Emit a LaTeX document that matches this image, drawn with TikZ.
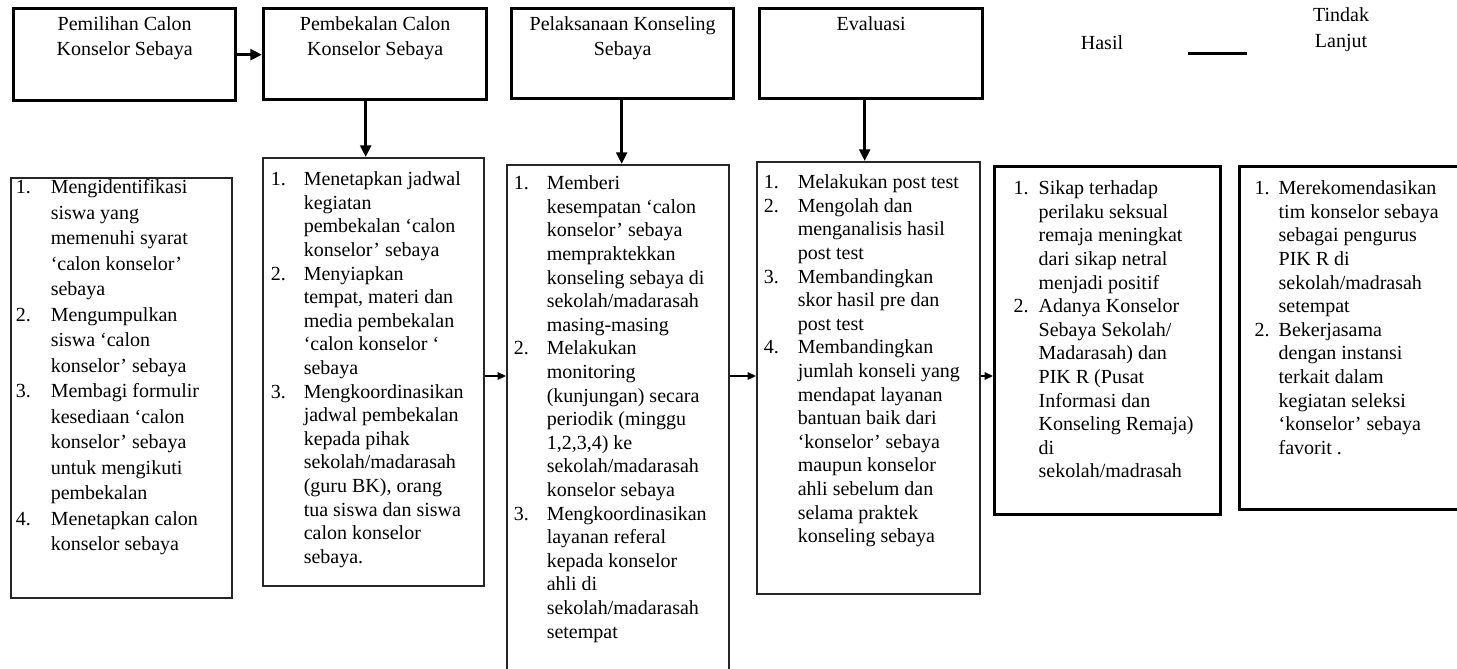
\documentclass[tikz,border=0pt]{standalone}
\usepackage{fontspec}
\setmainfont{Liberation Serif}
\usetikzlibrary{arrows.meta,calc}
\newlength\pxu
\setlength\pxu{0.6pt}
\newlength\indentnomor
\newlength\indentteks
% kotak judul: tinggi, lebar, isi
\newcommand{\judulkotak}[3]{\parbox[t][#1\pxu][t]{#2\pxu}{\fontsize{12}{15}\selectfont\centering
  \vspace*{\dimexpr22\pxu-10pt\relax}\rule{0pt}{10pt}#3}}
% kotak daftar: tinggi, lebar, baris pertama, jarak baris, nomor, teks, isi
\newcommand{\isikotak}[7]{\parbox[t][#1\pxu][t]{#2\pxu}{\fontsize{12}{#4\pxu}\selectfont
  \lineskiplimit=-\maxdimen
  \setlength\indentnomor{#5\pxu}\setlength\indentteks{#6\pxu}%
  \vspace*{\dimexpr#3\pxu-10pt\relax}#7}}
\newcommand{\butir}[2]{\par\hangindent=\indentteks\hangafter=1
  \hspace*{\indentnomor}\makebox[\dimexpr\indentteks-\indentnomor\relax][l]{\rule{0pt}{10pt}#1}#2\par}
\tikzset{
>={Triangle[length=7pt,width=6.5pt]},
kotak/.style={draw,line width=2pt,inner sep=0pt,anchor=north west},
daftar/.style={draw=black!85,line width=0.9pt,inner sep=0pt,anchor=north west},
teks/.style={inner sep=0pt},
panah/.style={->,line width=2pt},
panahtipis/.style={-{Triangle[length=5pt,width=4.5pt]},line width=0.9pt},
garis/.style={line width=1.8pt}}

\begin{document}
\begin{tikzpicture}[x=0.6pt,y=-0.6pt,font=\fontsize{12}{14}\selectfont]
\useasboundingbox (0,0) rectangle (1457,668);

% baris atas
\node[kotak] (pilih) at (12,7) {\judulkotak{92}{222}{Pemilihan Calon\\Konselor Sebaya}};
\node[kotak] (bekal) at (262,7) {\judulkotak{91}{223}{Pembekalan Calon\\Konselor Sebaya}};
\node[kotak] (laksana) at (510,7) {\judulkotak{90}{222}{Pelaksanaan Konseling\\Sebaya}};
\node[kotak] (evaluasi) at (758,7) {\judulkotak{90}{223}{Evaluasi}};
\node[teks,anchor=base] (hasil) at (1102,49) {Hasil};
\node[teks,anchor=north,align=center] (lanjut) at (1341,7) {Tindak\\[2pt]Lanjut};

% kotak isi
\node[daftar] (isi1) at (10,177) {\isikotak{420}{221}{16}{25.5}{5}{40}{%
\butir{1.}{Mengidentifikasi\\siswa yang\\memenuhi syarat\\‘calon konselor’\\sebaya}
\butir{2.}{Mengumpulkan\\siswa ‘calon\\konselor’ sebaya}
\butir{3.}{Membagi formulir\\kesediaan ‘calon\\konselor’ sebaya\\untuk mengikuti\\pembekalan}
\butir{4.}{Menetapkan calon\\konselor sebaya}}};

\node[daftar] (isi2) at (262,157) {\isikotak{428}{221}{28}{23.6}{8}{41}{%
\butir{1.}{Menetapkan jadwal\\kegiatan\\pembekalan ‘calon\\konselor’ sebaya}
\butir{2.}{Menyiapkan\\tempat, materi dan\\media pembekalan\\‘calon konselor ‘\\sebaya}
\butir{3.}{Mengkoordinasikan\\jadwal pembekalan\\kepada pihak\\sekolah/madarasah\\(guru BK), orang\\tua siswa dan siswa\\calon konselor\\sebaya.}}};

\node[daftar] (isi3) at (506,164) {\isikotak{520}{222}{25}{23.6}{7}{40}{%
\butir{1.}{Memberi\\kesempatan ‘calon\\konselor’ sebaya\\mempraktekkan\\konseling sebaya di\\sekolah/madarasah\\masing-masing}
\butir{2.}{Melakukan\\monitoring\\(kunjungan) secara\\periodik (minggu\\1,2,3,4) ke\\sekolah/madarasah\\konselor sebaya}
\butir{3.}{Mengkoordinasikan\\layanan referal\\kepada konselor\\ahli di\\sekolah/madarasah\\setempat}}};

\node[daftar] (isi4) at (756,161) {\isikotak{432}{223}{27}{23.6}{7}{41}{%
\butir{1.}{Melakukan post test}
\butir{2.}{Mengolah dan\\menganalisis hasil\\post test}
\butir{3.}{Membandingkan\\skor hasil pre dan\\post test}
\butir{4.}{Membandingkan\\jumlah konseli yang\\mendapat layanan\\bantuan baik dari\\‘konselor’ sebaya\\maupun konselor\\ahli sebelum dan\\selama praktek\\konseling sebaya}}};

\node[kotak] (isi5) at (993,165) {\isikotak{348}{226}{28}{23.6}{19}{44}{%
\butir{1.}{Sikap terhadap\\perilaku seksual\\remaja meningkat\\dari sikap netral\\menjadi positif}
\butir{2.}{Adanya Konselor\\Sebaya Sekolah/\\Madarasah) dan\\PIK R (Pusat\\Informasi dan\\Konseling Remaja)\\di\\sekolah/madrasah}}};

\node[kotak] (isi6) at (1238,165) {\isikotak{343}{224}{28}{23.6}{15}{39}{%
\butir{1.}{Merekomendasikan\\tim konselor sebaya\\sebagai pengurus\\PIK R di\\sekolah/madrasah\\setempat}
\butir{2.}{Bekerjasama\\dengan instansi\\terkait dalam\\kegiatan seleksi\\‘konselor’ sebaya\\favorit .}}};

% panah
\draw[panah] (pilih.east) -- (pilih.east -| bekal.west);
\coordinate (t2) at ($(bekal.south)+(-9.5,0)$);
\coordinate (t3) at ($(laksana.south)+(-1,0)$);
\coordinate (t4) at ($(evaluasi.south)+(-6.5,0)$);
\draw[panah] (t2) -- (t2 |- isi2.north);
\draw[panah] (t3) -- (t3 |- isi3.north);
\draw[panah] (t4) -- (t4 |- isi4.north);

\coordinate (h23) at ($(isi2.north east)+(0,219)$);
\coordinate (h34) at ($(isi3.north east)+(0,212)$);
\coordinate (h45) at ($(isi4.north east)+(0,215)$);
\draw[panahtipis] (h23) -- (h23 -| isi3.west);
\draw[panahtipis] (h34) -- (h34 -| isi4.west);
\draw[panahtipis] (h45) -- (h45 -| isi5.west);

\coordinate (g1) at ($(hasil.base east)+(65,4)$);
\draw[garis] (g1) -- ++(59,0);
\end{tikzpicture}
\end{document}
